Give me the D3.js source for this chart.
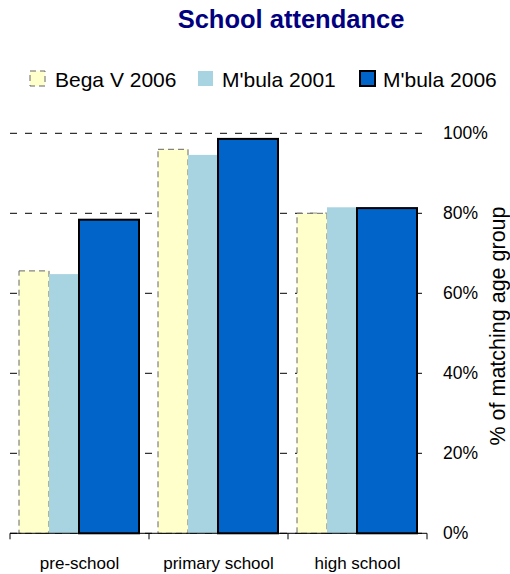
<!DOCTYPE html>
<html>
<head>
<meta charset="utf-8">
<script src="https://cdn.jsdelivr.net/npm/d3@7"></script>
<style>
  html, body { margin: 0; padding: 0; background: #fff; }
  svg { display: block; font-family: "Liberation Sans", Arial, Helvetica, sans-serif; }
</style>
</head>
<body>
<svg id="chart" width="510" height="574"></svg>
<script>
// ---- data ----
const categories = ["pre-school", "primary school", "high school"];
const seriesNames = ["Bega V 2006", "M'bula 2001", "M'bula 2006"];
const begaV2006 = [0.656, 0.960, 0.800];
const mbula2001 = [0.648, 0.946, 0.815];
const mbula2006 = [0.784, 0.986, 0.813];
const yTicks = [0, 0.2, 0.4, 0.6, 0.8, 1.0];

// ---- layout ----
const svg = d3.select("#chart");
const plot = { left: 10, right: 427, top: 133.3, bottom: 533.3 };

const x0 = d3.scaleBand().domain(categories).range([plot.left, plot.right]).padding(0);
// slots inside each band: Bega [0,1], M'bula 2001 [1,2], M'bula 2006 [2,4]
const xs = d3.scaleLinear().domain([0, 4]).range([9, 129]);
const y = d3.scaleLinear().domain([0, 1]).range([plot.bottom, plot.top]);

const series = [
  { name: seriesNames[0], values: begaV2006, s0: 0, s1: 1, fill: "#FFFFCC", stroke: "#666", sw: 1, dash: "6,4" },
  { name: seriesNames[1], values: mbula2001, s0: 1, s1: 2, fill: "#A8D3E0", stroke: "none", sw: 0, dash: null },
  { name: seriesNames[2], values: mbula2006, s0: 2, s1: 4, fill: "#0064C8", stroke: "#000", sw: 2, dash: null }
];

// Title
svg.append("text")
  .attr("x", 291).attr("y", 28)
  .attr("text-anchor", "middle")
  .attr("font-size", 25.5).attr("font-weight", "bold")
  .attr("fill", "#000080")
  .text("School attendance");

// Legend
const legendPos = [{ sx: 30, tx: 55 }, { sx: 198, tx: 222 }, { sx: 360, tx: 383 }];
const legend = svg.append("g");
series.forEach((s, i) => {
  legend.append("rect")
    .attr("x", legendPos[i].sx).attr("y", 71)
    .attr("width", 15).attr("height", 15)
    .attr("fill", s.fill)
    .attr("stroke", s.stroke)
    .attr("stroke-width", s.sw)
    .attr("stroke-dasharray", s.dash);
  legend.append("text")
    .attr("x", legendPos[i].tx).attr("y", 87)
    .attr("font-size", 21).attr("fill", "#000")
    .text(s.name);
});

// Gridlines (dashed, behind bars)
svg.append("g")
  .selectAll("line")
  .data(yTicks)
  .join("line")
  .attr("x1", plot.left).attr("x2", plot.right)
  .attr("y1", d => y(d)).attr("y2", d => y(d))
  .attr("stroke", "#000").attr("stroke-width", 1)
  .attr("stroke-dasharray", "7,8");

// Bars
series.forEach(s => {
  svg.append("g")
    .selectAll("rect")
    .data(categories.map((c, i) => ({ c, v: s.values[i] })))
    .join("rect")
    .attr("x", d => x0(d.c) + xs(s.s0))
    .attr("width", xs(s.s1) - xs(s.s0))
    .attr("y", d => y(d.v))
    .attr("height", d => y(0) - y(d.v))
    .attr("fill", s.fill)
    .attr("stroke", s.stroke)
    .attr("stroke-width", s.sw)
    .attr("stroke-dasharray", s.dash);
});

// Bottom axis: line, boundary ticks, centered labels
const xAxis = svg.append("g").attr("transform", `translate(0,${plot.bottom})`);
xAxis.append("line")
  .attr("x1", plot.left).attr("x2", plot.right)
  .attr("y1", 0).attr("y2", 0)
  .attr("stroke", "#000").attr("stroke-width", 1);
const bounds = categories.map(c => x0(c)).concat([x0(categories[categories.length - 1]) + x0.bandwidth()]);
xAxis.selectAll("line.tk")
  .data(bounds)
  .join("line").attr("class", "tk")
  .attr("x1", d => d).attr("x2", d => d)
  .attr("y1", 0).attr("y2", 6)
  .attr("stroke", "#000").attr("stroke-width", 1);
const xLabels = d3.axisBottom(x0).tickSize(0).tickPadding(0);
const xl = svg.append("g").attr("transform", `translate(0,${plot.bottom})`).call(xLabels);
xl.select(".domain").remove();
xl.selectAll("text")
  .attr("y", 36).attr("dy", 0)
  .attr("font-size", 17)
  .attr("font-family", "Liberation Sans, Arial, sans-serif")
  .attr("fill", "#000");

// Right axis labels
const yAxis = d3.axisRight(y).tickValues(yTicks).tickFormat(d3.format(".0%")).tickSize(0).tickPadding(16);
const ya = svg.append("g").attr("transform", `translate(${plot.right},0)`).call(yAxis);
ya.select(".domain").remove();
ya.selectAll("text")
  .attr("font-size", 17.5)
  .attr("font-family", "Liberation Sans, Arial, sans-serif")
  .attr("fill", "#000");

// Y title
svg.append("text")
  .attr("transform", `translate(505,326) rotate(-90)`)
  .attr("text-anchor", "middle")
  .attr("font-size", 21.5)
  .attr("fill", "#000")
  .text("% of matching age group");
</script>
</body>
</html>
